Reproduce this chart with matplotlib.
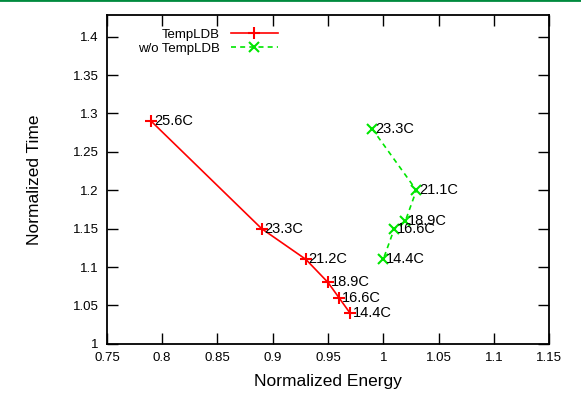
import matplotlib
matplotlib.use("Agg")
import matplotlib.pyplot as plt
from matplotlib.lines import Line2D

plt.rcParams['font.family'] = ['Liberation Sans', 'DejaVu Sans']

# TempLDB
energyLDB = [0.79, 0.89, 0.93, 0.95, 0.96, 0.97]
timeLDB = [1.29, 1.15, 1.11, 1.08, 1.06, 1.04]
tempLDB = ["25.6C", "23.3C", "21.2C", "18.9C", "16.6C", "14.4C"]

# w/o TempLDB
energyNo = [0.99, 1.03, 1.02, 1.01, 1.00]
timeNo = [1.28, 1.20, 1.16, 1.15, 1.11]
tempNo = ["23.3C", "21.1C", "18.9C", "16.6C", "14.4C"]

xticks = [0.75, 0.8, 0.85, 0.9, 0.95, 1, 1.05, 1.1, 1.15]
yticks = [1, 1.05, 1.1, 1.15, 1.2, 1.25, 1.3, 1.35, 1.4]

fig = plt.figure(figsize=(5.81, 3.98), dpi=100)
ax = fig.add_axes([0.184, 0.136, 0.761, 0.826])

red = "#ff0000"
green = "#00e600"
ax.plot(energyLDB, timeLDB, color=red, lw=1.2, marker="+", ms=8, mew=1.5, label="TempLDB")
ax.plot(energyNo, timeNo, color=green, lw=1.2, ls=(0, (3, 2.5)), marker="x", ms=6.5, mew=1.5, label="w/o TempLDB")

# temperature labels next to each point
for x, y, t in zip(energyLDB, timeLDB, tempLDB):
    ax.annotate(t, (x, y), xytext=(2, 0), textcoords="offset points", va="center", ha="left", fontsize=10.5)
for x, y, t in zip(energyNo, timeNo, tempNo):
    ax.annotate(t, (x, y), xytext=(2, 0), textcoords="offset points", va="center", ha="left", fontsize=10.5)

ax.set_xlim(0.75, 1.15)
ax.set_ylim(1, 1.428)
ax.set_xticks(xticks)
ax.set_yticks(yticks)
ax.set_xticklabels([("%g" % v) for v in xticks])
ax.set_yticklabels([("%g" % v) for v in yticks])
ax.tick_params(direction="in", length=8, width=1, top=True, right=True, labelsize=9.5, pad=6)
for s in ax.spines.values():
    s.set_linewidth(1.3)

ax.set_xlabel("Normalized Energy", fontsize=12.5, labelpad=7)
ax.set_ylabel("Normalized Time", fontsize=12.5, labelpad=22)

ax.legend(loc="upper left", bbox_to_anchor=(0.05, 0.988), frameon=False, markerfirst=False,
          fontsize=9.5, handlelength=3.6, handletextpad=0.8, labelspacing=0.15, borderpad=0.2)

# green line along the top of the slide
fig.add_artist(Line2D([0, 1], [0.999, 0.999], transform=fig.transFigure, color="#008a3e", lw=2))

fig.savefig("out.png", dpi=100)
